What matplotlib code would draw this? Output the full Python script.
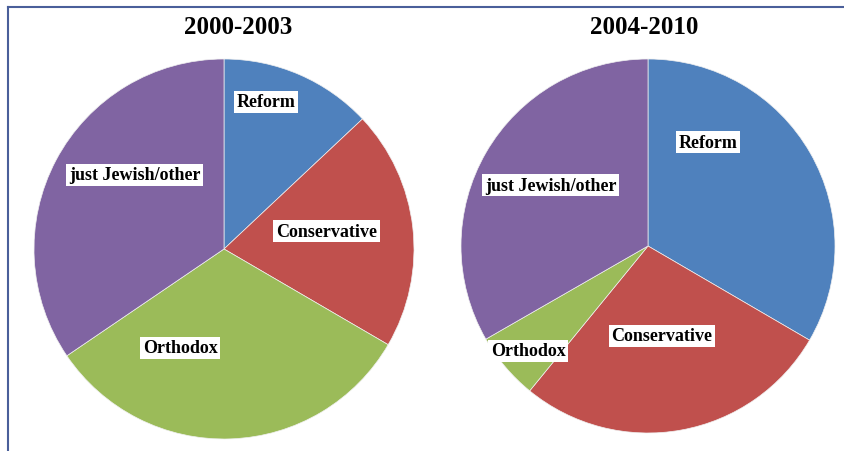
import matplotlib.pyplot as plt
from matplotlib.lines import Line2D

categories = ["Reform", "Conservative", "Orthodox", "just Jewish/other"]
shares_2000_2003 = [13.0, 20.4, 32.1, 34.5]
shares_2004_2010 = [33.4, 27.5, 5.8, 33.3]
titles = ["2000-2003", "2004-2010"]

COLORS = ["#4F81BD", "#C0504D", "#9BBB59", "#8064A2"]
FONT = "Liberation Serif"

W, H = 844, 452

# pie centre / radius in pixels, and label spots in pie units
pies = [
    {"cx": 224, "cy": 250, "r": 190,
     "labels": [(0.22, 0.775), (0.54, 0.094), (-0.23, -0.52), (-0.47, 0.39)],
     "title_x": 238, "title_y": 27},
    {"cx": 648, "cy": 247, "r": 187,
     "labels": [(0.32, 0.556), (0.075, -0.48), (-0.64, -0.56), (-0.52, 0.326)],
     "title_x": 644, "title_y": 28},
]


def main():
    fig = plt.figure(figsize=(W / 100, H / 100), dpi=100)
    fig.patch.set_facecolor("white")

    # frame lines (top and left)
    fig.add_artist(Line2D([8 / W, 1], [1 - 8 / H, 1 - 8 / H], color="#4a5f9a", lw=1.5))
    fig.add_artist(Line2D([8 / W, 8 / W], [0, 1 - 8 / H], color="#4a5f9a", lw=1.5))

    for data, title, p in zip([shares_2000_2003, shares_2004_2010], titles, pies):
        r = p["r"]
        ax = fig.add_axes([(p["cx"] - r) / W, (H - p["cy"] - r) / H, 2 * r / W, 2 * r / H])
        ax.pie(data, colors=COLORS, startangle=90, counterclock=False, radius=1,
               wedgeprops={"edgecolor": "#f0f0f0", "linewidth": 0.5})
        ax.set_xlim(-1, 1)
        ax.set_ylim(-1, 1)
        ax.set_aspect("equal")
        ax.axis("off")

        for name, (x, y) in zip(categories, p["labels"]):
            ax.text(x, y, name, ha="center", va="center", fontsize=13,
                    fontweight="bold", family=FONT,
                    bbox={"facecolor": "white", "edgecolor": "none", "pad": 2})

        fig.text(p["title_x"] / W, 1 - p["title_y"] / H, title, ha="center", va="center",
                 fontsize=18, fontweight="bold", family=FONT)

    fig.savefig("out.png", dpi=100)
    plt.close(fig)


if __name__ == "__main__":
    main()
